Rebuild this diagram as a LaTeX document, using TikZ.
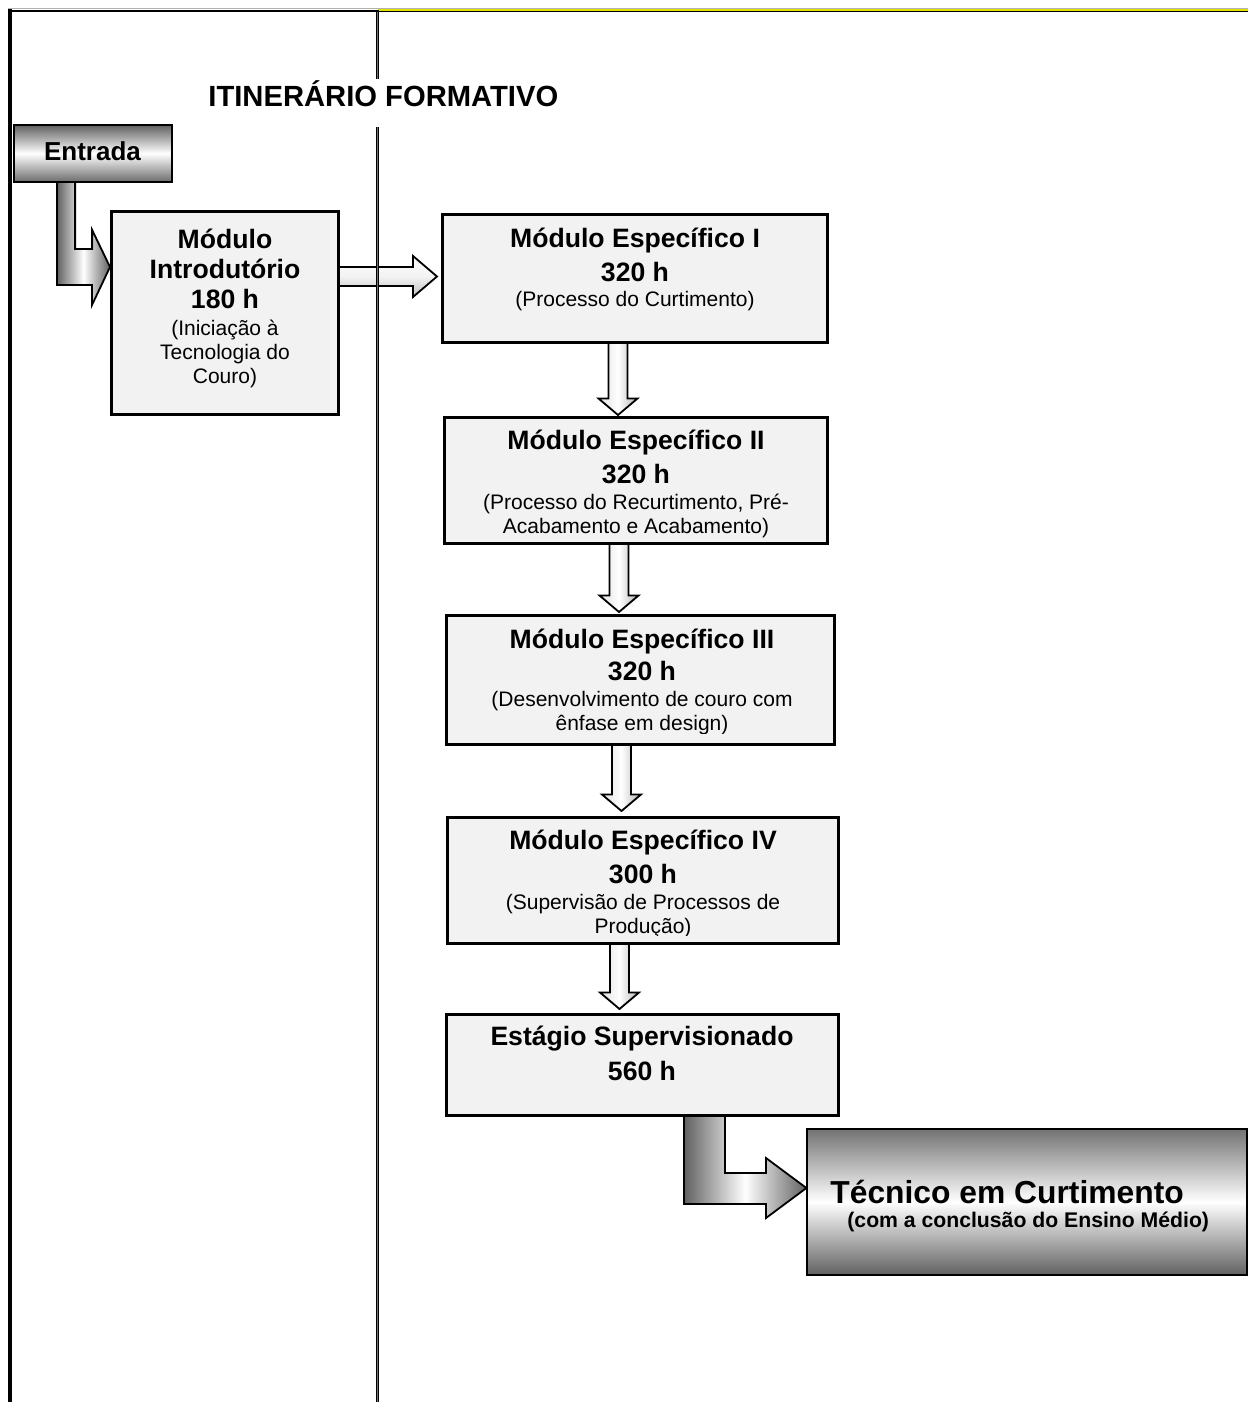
\documentclass[tikz,border=0pt]{standalone}
\usepackage{fontspec}
\setmainfont{Liberation Sans}
\usetikzlibrary{calc}
\pgfdeclarelayer{background}
\pgfsetlayers{background,main}
\definecolor{olivel}{RGB}{128,128,0}
\definecolor{ylw}{RGB}{225,225,0}
\definecolor{boxgray}{RGB}{242,242,242}
\newcommand{\bfz}{\fontsize{13.3}{12}\selectfont\bfseries}
\newcommand{\nz}{\fontsize{10.5}{12}\selectfont\mdseries}
\newcommand{\downblk}[2]{%
  \path[downarr] ($(#1)+(-9.5,0)$) -- ($(#1)+(9.5,0)$) -- ($(#2)+(9.5,-16.5)$) -- ($(#2)+(19.5,-16.5)$) -- (#2) -- ($(#2)+(-19.5,-16.5)$) -- ($(#2)+(-9.5,-16.5)$) -- cycle;}
\begin{document}
\begin{tikzpicture}[x=0.5pt,y=-0.5pt,
  modbox/.style={draw=black, line width=1.5pt, fill=boxgray, inner sep=0pt},
  entbox/.style={draw=black, line width=0.9pt, top color=black!62, bottom color=black!58, middle color=white, inner sep=0pt},
  tecbox/.style={draw=black, line width=0.6pt, top color=black!55, bottom color=black!62, middle color=white, inner sep=0pt},
  txt/.style={anchor=base, align=center, inner sep=0pt, font=\bfz},
  downarr/.style={draw=black, line width=0.9pt, line join=miter, left color=black!12, right color=black!30, middle color=white},
  rightarr/.style={draw=black, line width=0.9pt, line join=miter, top color=white, bottom color=black!25, middle color=black!5},
  bentarr/.style={draw=black, line width=0.9pt, line join=miter, left color=black!62, right color=black!62, middle color=white},
  frameline/.style={line width=1.8pt, line cap=rect},
]
\useasboundingbox (0,0) rectangle (1248,1402);

% boxes
\node[entbox, minimum width=79pt, minimum height=28.5pt] (entrada) at (93,153.5) {};
\node[modbox, minimum width=113.5pt, minimum height=101.5pt] (intro) at (225,313) {};
\node[modbox, minimum width=192.5pt, minimum height=64pt] (esp1) at (635,278.5) {};
\node[modbox, minimum width=191.5pt, minimum height=63pt] (esp2) at (636,480.5) {};
\node[modbox, minimum width=194pt, minimum height=64.5pt] (esp3) at (640.5,680) {};
\node[modbox, minimum width=195.5pt, minimum height=63pt] (esp4) at (643,880.5) {};
\node[modbox, minimum width=196pt, minimum height=50.5pt] (estagio) at (642.5,1065) {};
\node[tecbox, minimum width=220pt, minimum height=73pt] (tecnico) at (1027,1202) {};

% texts (multi-line nodes: base = last line)
\node[anchor=base west, inner sep=0pt, font=\fontsize{14.6}{16}\selectfont\bfseries] (title) at (208,107) {ITINERÁRIO FORMATIVO};
\node[txt, font=\fontsize{13}{12}\selectfont\bfseries] (entradat) at (92.5,161) {Entrada};
\node[txt] (introt) at (225,383) {Módulo\\[3pt]Introdutório\\[3pt]180 h\\[1.5pt]\nz (Iniciação à\\\nz Tecnologia do\\\nz Couro)};
\node[txt] (esp1t) at (635,306) {Módulo Específico I\\[3.3pt]320 h\\[0.5pt]\nz (Processo do Curtimento)};
\node[txt] (esp2t) at (636,533) {Módulo Específico II\\[3.3pt]320 h\\[1pt]\nz (Processo do Recurtimento, Pré-\\\nz Acabamento e Acabamento)};
\begin{scope}
\clip (440,600) rectangle (850,733);
\node[txt] (esp3t) at (642,730) {Módulo Específico III\\[2.5pt]320 h\\[1pt]\nz (Desenvolvimento de couro com\\\nz ênfase em design)};
\end{scope}
\begin{scope}
\clip (440,800) rectangle (850,935);
\node[txt] (esp4t) at (643,933) {Módulo Específico IV\\[3.3pt]300 h\\[1pt]\nz (Supervisão de Processos de\\\nz Produção)};
\end{scope}
\node[txt] (estagiot) at (642,1080) {Estágio Supervisionado\\[4pt]560 h};
\node[anchor=base west, align=left, inner sep=0pt] (tecnicot) at (830,1227) {\fontsize{15.9}{17}\selectfont\bfseries Técnico em Curtimento\\\hspace*{8.5pt}\fontsize{10.6}{17}\selectfont\bfseries (com a conclusão do Ensino Médio)};

% connectors and frame behind boxes
\begin{pgfonlayer}{background}
  % Entrada -> Introdutorio (bent block arrow)
  \path[bentarr] ($(entrada.south west)+(44,-2)$) -- ++(18,0) -- ++(0,68) -- ++(17,0) -- ++(0,-19)
     -- ($(intro.west)+(0,-46)$) -- ++(-18,38) -- ++(0,-20) -- ++(-35,0) -- cycle;
  % Introdutorio -> Especifico I
  \path[rightarr] ($(intro.east)+(-2,-46)$) -- ++(75,0) -- ++(0,-11) -- ++(24,20.5) -- ++(-24,20.5) -- ++(0,-11) -- ++(-75,0) -- cycle;
  % vertical block arrows
  \coordinate (d1s) at ($(esp1.south)+(-17,-2)$);
  \coordinate (d1e) at ($(esp2.north)+(-18,-1)$);
  \coordinate (d2s) at ($(esp2.south)+(-17,-2)$);
  \coordinate (d2e) at ($(esp3.north)+(-21.5,-2)$);
  \coordinate (d3s) at ($(esp3.south)+(-19,-2)$);
  \coordinate (d3e) at ($(esp4.north)+(-21.5,-5)$);
  \coordinate (d4s) at ($(esp4.south)+(-23.5,-2)$);
  \coordinate (d4e) at ($(estagio.north)+(-23,-4)$);
  \downblk{d1s}{d1e}
  \downblk{d2s}{d2e}
  \downblk{d3s}{d3e}
  \downblk{d4s}{d4e}
  % Estagio -> Tecnico (bent block arrow)
  \path[bentarr] ($(estagio.south west)+(239,-2)$) -- ++(41,0) -- ++(0,58) -- ++(41,0) -- ++(0,-15)
     -- ($(tecnico.west)+(0,-14)$) -- ++(-40.4,30) -- ++(0,-14) -- ++(-82,0) -- cycle;

  % frame
  \draw[gray!60, line width=0.5pt] (8,8.6) -- (1248,8.6);
  \draw[frameline] (10,1402) -- (10,11);
  \draw[line width=1.1pt] (9,11) -- (378,11);
  \draw[ylw, line width=0.8pt] (378,10) -- (1248,10);
  \draw[black, line width=0.6pt] (378,11.8) -- (1248,11.8);
  \draw[line width=1.6pt] (377.5,10) -- (377.5,79);
  \draw[line width=1.6pt] (377.5,127) -- (377.5,1402);
  \draw[olivel, line width=0.5pt] (377.5,12) -- (377.5,79);
  \draw[olivel, line width=0.5pt] (377.5,127) -- (377.5,1402);
\end{pgfonlayer}
\end{tikzpicture}
\end{document}
